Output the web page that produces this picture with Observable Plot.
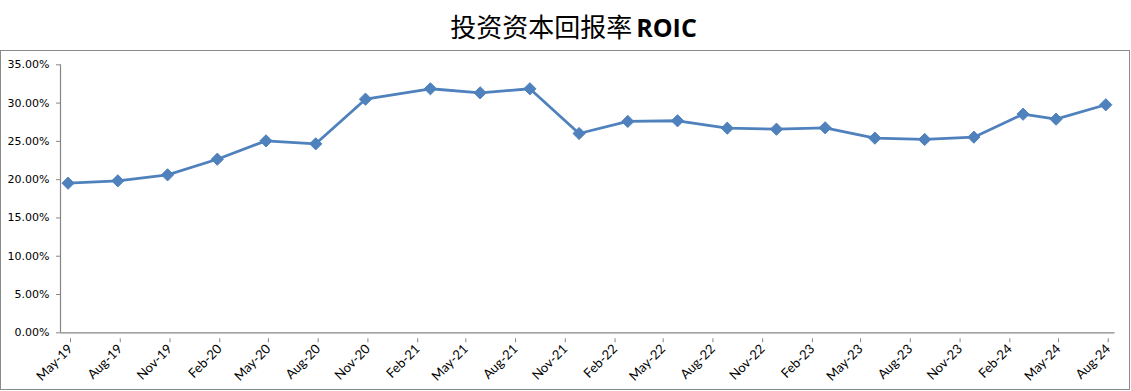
<!DOCTYPE html>
<html>
<head>
<meta charset="utf-8">
<script src="https://cdn.jsdelivr.net/npm/d3@7"></script>
<script src="https://cdn.jsdelivr.net/npm/@observablehq/plot@0.6"></script>
<style>
  html, body { margin: 0; padding: 0; background: #fff; }
  #title { height: 50px; width: 1131px; text-align: center; line-height: 52px; box-sizing: border-box; padding-left: 16px; white-space: nowrap; }
  #title .cn { font-family: "Noto Sans CJK SC", sans-serif; font-size: 26px; color: #000; }
  #title .en { font-family: "Open Sans", "Liberation Sans", sans-serif; font-size: 25px; font-weight: 700; color: #000; }
  #frame { position: absolute; left: 0; top: 50px; width: 1128px; height: 338px; border: 1px solid #8a8a8a; }
  #frame svg { display: block; }
</style>
</head>
<body>
<div id="title"><span class="cn">投资资本回报率</span> <span class="en">ROIC</span></div>
<div id="frame"></div>
<script>
const dates = ["2019-05-15","2019-08-15","2019-11-15","2020-02-15","2020-05-15","2020-08-15","2020-11-15",
  "2021-03-15","2021-06-15","2021-09-15","2021-12-15","2022-03-15","2022-06-15","2022-09-15","2022-12-15",
  "2023-03-15","2023-06-15","2023-09-15","2023-12-15","2024-03-15","2024-05-15","2024-08-15"];
const roic = [19.54,19.85,20.63,22.67,25.07,24.68,30.51,31.87,31.34,31.87,26.03,27.60,27.69,26.72,26.59,
  26.77,25.42,25.25,25.55,28.55,27.90,29.78];
const tickLabels = ["May-19","Aug-19","Nov-19","Feb-20","May-20","Aug-20","Nov-20","Feb-21","May-21","Aug-21",
  "Nov-21","Feb-22","May-22","Aug-22","Nov-22","Feb-23","May-23","Aug-23","Nov-23","Feb-24","May-24","Aug-24"];
const yTicks = [0,5,10,15,20,25,30,35];

const parseTick = d3.utcParse("%b-%y");
const tickDates = tickLabels.map(parseTick);
const data = dates.map((d, i) => ({date: new Date(d + "T00:00:00Z"), value: roic[i] / 100}));

const axisColor = "#868686";
const lineColor = "#4F81BD";

const chart = Plot.plot({
  width: 1128,
  height: 338,
  marginLeft: 59,
  marginRight: 14.5,
  marginTop: 13.3,
  marginBottom: 56.7,
  style: {background: "#fff", overflow: "visible"},
  x: {type: "utc", domain: [new Date("2019-05-01T00:00:00Z"), new Date("2024-09-01T00:00:00Z")]},
  y: {domain: [0, 0.35]},
  marks: [
    Plot.ruleY([0], {stroke: axisColor, strokeWidth: 1.2}),
    Plot.ruleX([new Date("2019-05-01T00:00:00Z")], {stroke: axisColor, strokeWidth: 1.2}),
    Plot.axisY(yTicks.map(v => v / 100), {
      tickFormat: d3.format(".2%"), tickSize: 4, tickPadding: 7, stroke: axisColor,
      fontSize: 11, fontFamily: "DejaVu Sans, sans-serif", fill: "#000", label: null
    }),
    Plot.axisX(tickDates, {
      tickFormat: (d) => tickLabels[tickDates.findIndex(t => +t === +d)],
      tickSize: 4, tickPadding: 4, tickRotate: -45, stroke: axisColor,
      fontSize: 13, fontFamily: "Lato, Open Sans, sans-serif", fill: "#000", label: null,
      dx: 10, dy: 6
    }),
    Plot.line(data, {x: "date", y: "value", stroke: lineColor, strokeWidth: 2.8}),
    Plot.dot(data, {x: "date", y: "value", symbol: "diamond2", r: 5.5, fill: lineColor, stroke: lineColor, strokeWidth: 1})
  ]
});
document.getElementById("frame").appendChild(chart);
</script>
</body>
</html>
